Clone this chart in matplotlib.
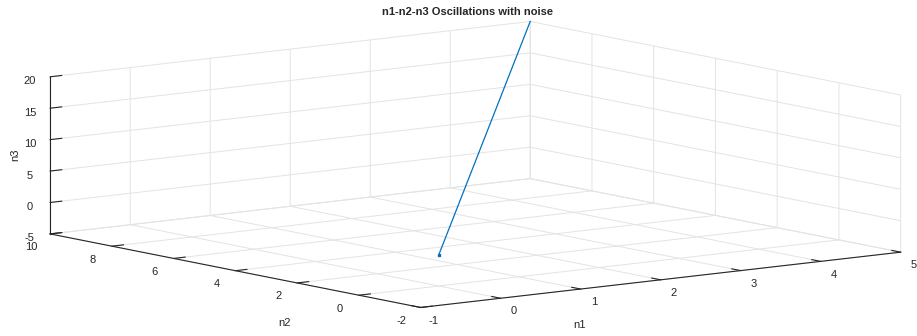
import numpy as np
import matplotlib
matplotlib.use("Agg")
import matplotlib.pyplot as plt

plt.rcParams["font.family"] = ["Liberation Sans", "DejaVu Sans"]
plt.rcParams["axes3d.automargin"] = False
plt.rcParams["axes.unicode_minus"] = False

# data: one long excursion from the origin
n1 = [0.0, 5.0]
n2 = [0.0, 10.0]
n3 = [0.0, 20.0]

N1_LIM, N2_LIM, N3_LIM = (-1, 5), (-2, 10), (-5, 20)
N1_TICKS = list(range(-1, 6))
N2_TICKS = list(range(-2, 11, 2))
N3_TICKS = list(range(-5, 21, 5))

GRID = "#e3e3e3"
BLUE = "#0072BD"
INK = "#262626"

fig = plt.figure(figsize=(9.17, 3.36), dpi=100)
ax = fig.add_axes([0.0135, -0.003, 1, 1], projection="3d")
ax.set_proj_type("ortho")
ax.view_init(elev=8.7, azim=-127.3)
ax.set_box_aspect((615, 623, 162), zoom=2.524)

ax.plot(n1, n2, n3, color=BLUE, lw=0.9)
ax.plot(n1[:1], n2[:1], n3[:1], "s", color=BLUE, ms=2)

ax.set_xlim(*N1_LIM); ax.set_ylim(*N2_LIM); ax.set_zlim(*N3_LIM)
ax.set_xticks(N1_TICKS); ax.set_yticks(N2_TICKS); ax.set_zticks(N3_TICKS)

for axis, pad in ((ax.xaxis, -3.5), (ax.yaxis, -3.0), (ax.zaxis, -5.0)):
    axis.set_pane_color((1, 1, 1, 0))
    axis._axinfo["grid"].update(color=GRID, linewidth=0.7)
    axis._axinfo["tick"].update(inward_factor=0.0, outward_factor=0.3)
    axis.line.set_color(INK)
    axis.line.set_linewidth(0.8)
    axis.set_tick_params(labelsize=8, colors=INK, pad=pad, width=0.8)

# axis titles, placed as MATLAB puts them
fig.text(580 / 917, 1 - 325 / 336, "n1", fontsize=8, color=INK, ha="center", va="center")
fig.text(285 / 917, 1 - 323 / 336, "n2", fontsize=8, color=INK, ha="center", va="center")
fig.text(15 / 917, 1 - 155 / 336, "n3", fontsize=8, color=INK, ha="center", va="center",
         rotation=90)
fig.text(0.51, 0.964, "n1-n2-n3 Oscillations with noise", fontsize=8,
         fontweight="bold", ha="center", va="center", color=INK)

fig.savefig("out.png", dpi=100)
